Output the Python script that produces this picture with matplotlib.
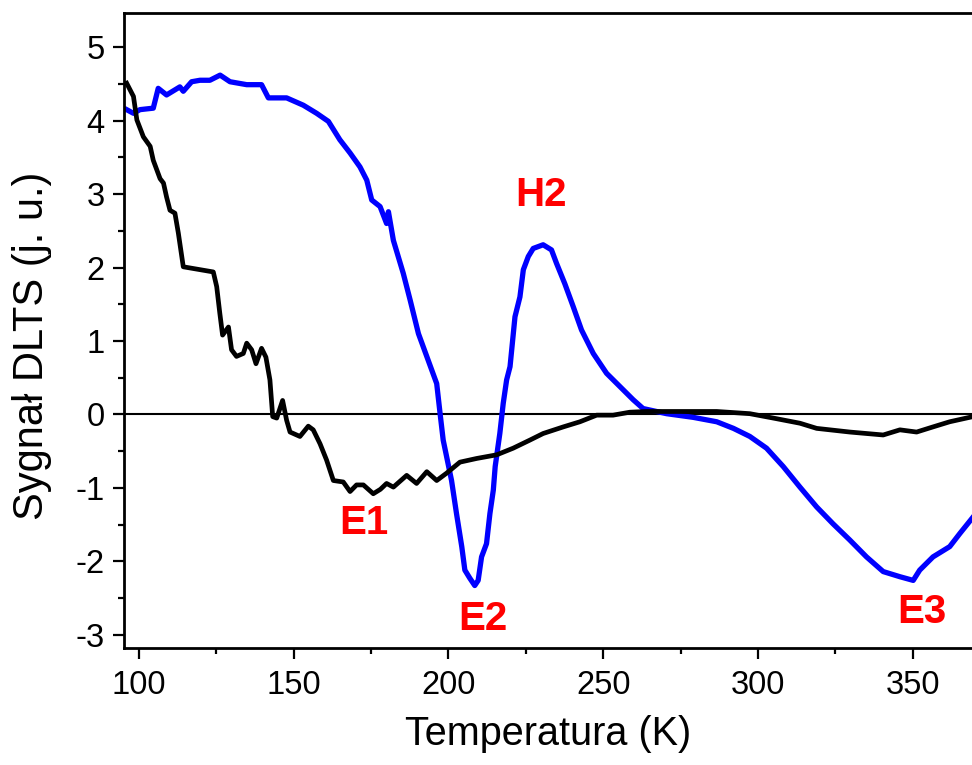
import matplotlib
matplotlib.use("Agg")
import matplotlib.pyplot as plt
from matplotlib.ticker import MultipleLocator

plt.rcParams['font.family'] = ['Liberation Sans', 'DejaVu Sans']
plt.rcParams['axes.unicode_minus'] = False

# Black curve (sample 1)
black_T = [96.0, 98.2, 99.3, 101.4, 103.6, 104.6, 106.8, 107.9, 108.9, 110.0, 111.6, 112.7,
           114.3, 124.0, 125.1, 126.1, 127.0, 128.9, 129.9, 131.5, 133.7, 134.8, 136.4, 137.8,
           139.6, 141.0, 142.3, 143.2, 144.5, 146.4, 147.7, 148.8, 152.0, 154.7, 156.3, 158.5,
           160.6, 162.8, 166.0, 168.2, 170.3, 172.5, 175.7, 178.0, 180.0, 182.2, 186.5, 189.7,
           193.0, 196.2, 199.4, 203.7, 209.1, 215.6, 220.9, 226.3, 230.6, 237.1, 242.5, 247.9,
           253.2, 258.6, 264.0, 270.5, 286.7, 297.4, 305.0, 313.6, 319.0, 329.7, 340.5, 345.9,
           351.3, 356.6, 362.0, 369.5]
black_S = [4.51, 4.33, 4.01, 3.78, 3.65, 3.46, 3.21, 3.15, 2.96, 2.78, 2.74, 2.47,
           2.01, 1.94, 1.74, 1.38, 1.08, 1.19, 0.88, 0.79, 0.83, 0.97, 0.88, 0.69,
           0.90, 0.78, 0.47, -0.03, -0.05, 0.19, -0.08, -0.24, -0.30, -0.16, -0.21, -0.40,
           -0.62, -0.90, -0.92, -1.05, -0.96, -0.96, -1.08, -1.02, -0.94, -0.99, -0.83, -0.94,
           -0.78, -0.90, -0.80, -0.65, -0.60, -0.55, -0.46, -0.35, -0.26, -0.17, -0.10, -0.01,
           -0.01, 0.03, 0.04, 0.04, 0.04, 0.01, -0.05, -0.12, -0.19, -0.24, -0.28, -0.21,
           -0.24, -0.17, -0.10, -0.03]

# Blue curve (sample 2)
blue_T = [96.0, 98.2, 100.3, 104.6, 106.2, 108.9, 113.2, 114.3, 117.0, 119.7, 122.9, 126.2,
          129.4, 134.8, 139.6, 141.8, 147.7, 153.1, 157.4, 161.2, 164.9, 168.2, 171.4, 173.6,
          175.2, 177.9, 180.0, 180.6, 182.2, 185.4, 187.6, 190.3, 196.2, 197.3, 198.3, 201.0,
          202.6, 204.3, 205.3, 206.9, 208.5, 209.6, 210.7, 212.3, 213.4, 214.5, 215.1, 216.6,
          217.7, 218.8, 219.9, 221.5, 223.1, 224.2, 225.8, 227.4, 230.6, 233.3, 234.9, 237.6,
          240.3, 243.0, 246.8, 251.1, 255.4, 259.7, 262.9, 270.5, 279.1, 286.7, 292.1, 297.4,
          302.8, 308.2, 313.6, 319.0, 324.3, 329.7, 335.1, 340.5, 345.9, 350.2, 352.3, 356.6,
          362.0, 365.3, 369.5]
blue_S = [4.15, 4.10, 4.15, 4.17, 4.44, 4.35, 4.46, 4.40, 4.53, 4.55, 4.55, 4.62,
          4.53, 4.49, 4.49, 4.31, 4.31, 4.21, 4.10, 3.99, 3.74, 3.56, 3.37, 3.19,
          2.92, 2.83, 2.60, 2.76, 2.37, 1.92, 1.56, 1.10, 0.42, 0.01, -0.35, -0.90,
          -1.35, -1.80, -2.12, -2.23, -2.33, -2.26, -1.94, -1.76, -1.35, -1.03, -0.71, -0.26,
          0.15, 0.47, 0.65, 1.33, 1.60, 1.97, 2.15, 2.26, 2.31, 2.24, 2.06, 1.78,
          1.47, 1.15, 0.83, 0.56, 0.38, 0.20, 0.08, 0.01, -0.04, -0.10, -0.19, -0.30,
          -0.46, -0.71, -0.99, -1.26, -1.49, -1.71, -1.94, -2.14, -2.21, -2.26, -2.12, -1.94,
          -1.80, -1.62, -1.40]

peak_labels = ["E1", "E2", "H2", "E3"]
peak_T = [172.8, 211.0, 229.9, 353.0]
peak_S = [-1.48, -2.78, 2.99, -2.69]

fig = plt.figure(figsize=(9.72, 7.65), dpi=100)
ax = fig.add_axes([0.1276, 0.153, 0.8724, 0.8304])

ax.axhline(0, color='black', lw=1.5, zorder=1)
ax.plot(black_T, black_S, color='black', lw=3.4, zorder=3)
ax.plot(blue_T, blue_S, color='#0000ff', lw=3.8, zorder=2)

for lab, t, s in zip(peak_labels, peak_T, peak_S):
    ax.text(t, s, lab, color='#ff0000', fontsize=29, fontweight='bold',
            ha='center', va='center')

ax.set_xlim(95.15, 369.2)
ax.set_ylim(-3.18, 5.47)
ax.xaxis.set_major_locator(MultipleLocator(50))
ax.xaxis.set_minor_locator(MultipleLocator(25))
ax.yaxis.set_major_locator(MultipleLocator(1))
ax.yaxis.set_minor_locator(MultipleLocator(0.5))

ax.spines['right'].set_visible(False)
for sp in ['left', 'top', 'bottom']:
    ax.spines[sp].set_linewidth(2.0)

ax.tick_params(which='major', direction='out', length=8, width=1.6,
               labelsize=23.5, pad=6, top=False, right=False)
ax.tick_params(which='minor', direction='out', length=4, width=1.6,
               top=False, right=False)
ax.tick_params(axis='x', which='major', pad=8)

ax.set_xlabel("Temperatura (K)", fontsize=28.5, labelpad=10)
ax.set_ylabel("Sygnał DLTS (j. u.)", fontsize=30)
ax.yaxis.set_label_coords(-0.085, 0.475)

fig.savefig("out.png", dpi=100)
